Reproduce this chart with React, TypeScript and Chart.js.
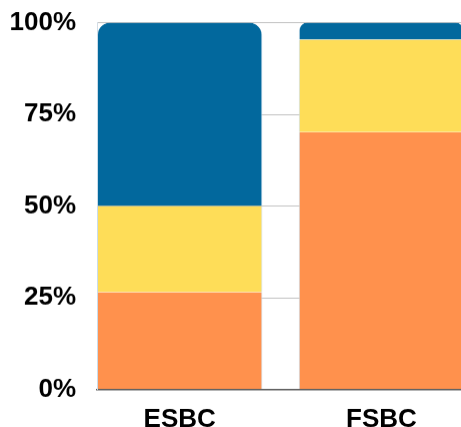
import React, { useEffect, useRef } from "react";
import { Chart, registerables } from "chart.js";

Chart.register(...registerables);

const categories = ["ESBC", "FSBC"];
const orangeValues = [26.5, 70.2];
const yellowValues = [23.5, 25.2];
const blueValues = [50.0, 4.6];
const yTicks = [0, 25, 50, 75, 100];

const FONT = "'Liberation Sans', Arial, sans-serif";

export default function App() {
  const ref = useRef<HTMLCanvasElement | null>(null);

  useEffect(() => {
    if (!ref.current) return;
    const toPoints = (vals: number[]) => vals.map((v, i) => ({ x: i, y: v }));
    const side = { left: 1, right: 1, top: 0, bottom: 0 };
    const chart = new Chart(ref.current, {
      type: "bar",
      data: {
        datasets: [
          { label: "orange", data: toPoints(orangeValues), backgroundColor: "#ff914d", borderColor: "#c9dcea", borderWidth: side },
          { label: "yellow", data: toPoints(yellowValues), backgroundColor: "#fedd58", borderColor: "#c9dcea", borderWidth: side },
          {
            label: "blue", data: toPoints(blueValues), backgroundColor: "#02689d", borderColor: "#c9dcea", borderWidth: side,
            borderRadius: { topLeft: 13, topRight: 13, bottomLeft: 0, bottomRight: 0 }, borderSkipped: "start",
          },
        ],
      },
      options: {
        animation: false,
        responsive: true,
        maintainAspectRatio: false,
        layout: { padding: 0 },
        plugins: { legend: { display: false }, tooltip: { enabled: false } },
        datasets: { bar: { categoryPercentage: 1, barPercentage: 0.82 } },
        scales: {
          x: {
            type: "linear", stacked: true, min: -0.41, max: 1.439, offset: false,
            afterBuildTicks: (scale: any) => { scale.ticks = categories.map((_, i) => ({ value: i })); },
            grid: { display: false, drawTicks: false },
            border: { display: true, color: "#5a5a5a", width: 1.5 },
            ticks: { padding: 15, color: "#000", font: { family: FONT, size: 26, weight: "bold" },
              callback: (v: any) => categories[v as number] ?? "", maxRotation: 0, autoSkip: false },
          },
          y: {
            stacked: true, min: 0, max: 100,
            afterBuildTicks: (scale: any) => { scale.ticks = yTicks.map((v) => ({ value: v })); },
            afterFit: (scale: any) => { scale.width = 89; },
            grid: { color: "#c2c2c2", lineWidth: 1, drawTicks: false },
            border: { display: true, color: "#d3dde6", width: 1 },
            ticks: { padding: 21, color: "#000", font: { family: FONT, size: 26, weight: "bold" }, callback: (v: any) => `${v}%` },
          },
        },
      },
    } as any);
    return () => chart.destroy();
  }, []);

  return (
    <div style={{ position: "fixed", left: 0, top: 0, width: 461, height: 427, overflow: "hidden", background: "#fff" }}>
      <div style={{ position: "absolute", left: 8, top: -14.3, width: 462, height: 463.8 }}>
        <canvas ref={ref} />
      </div>
    </div>
  );
}
